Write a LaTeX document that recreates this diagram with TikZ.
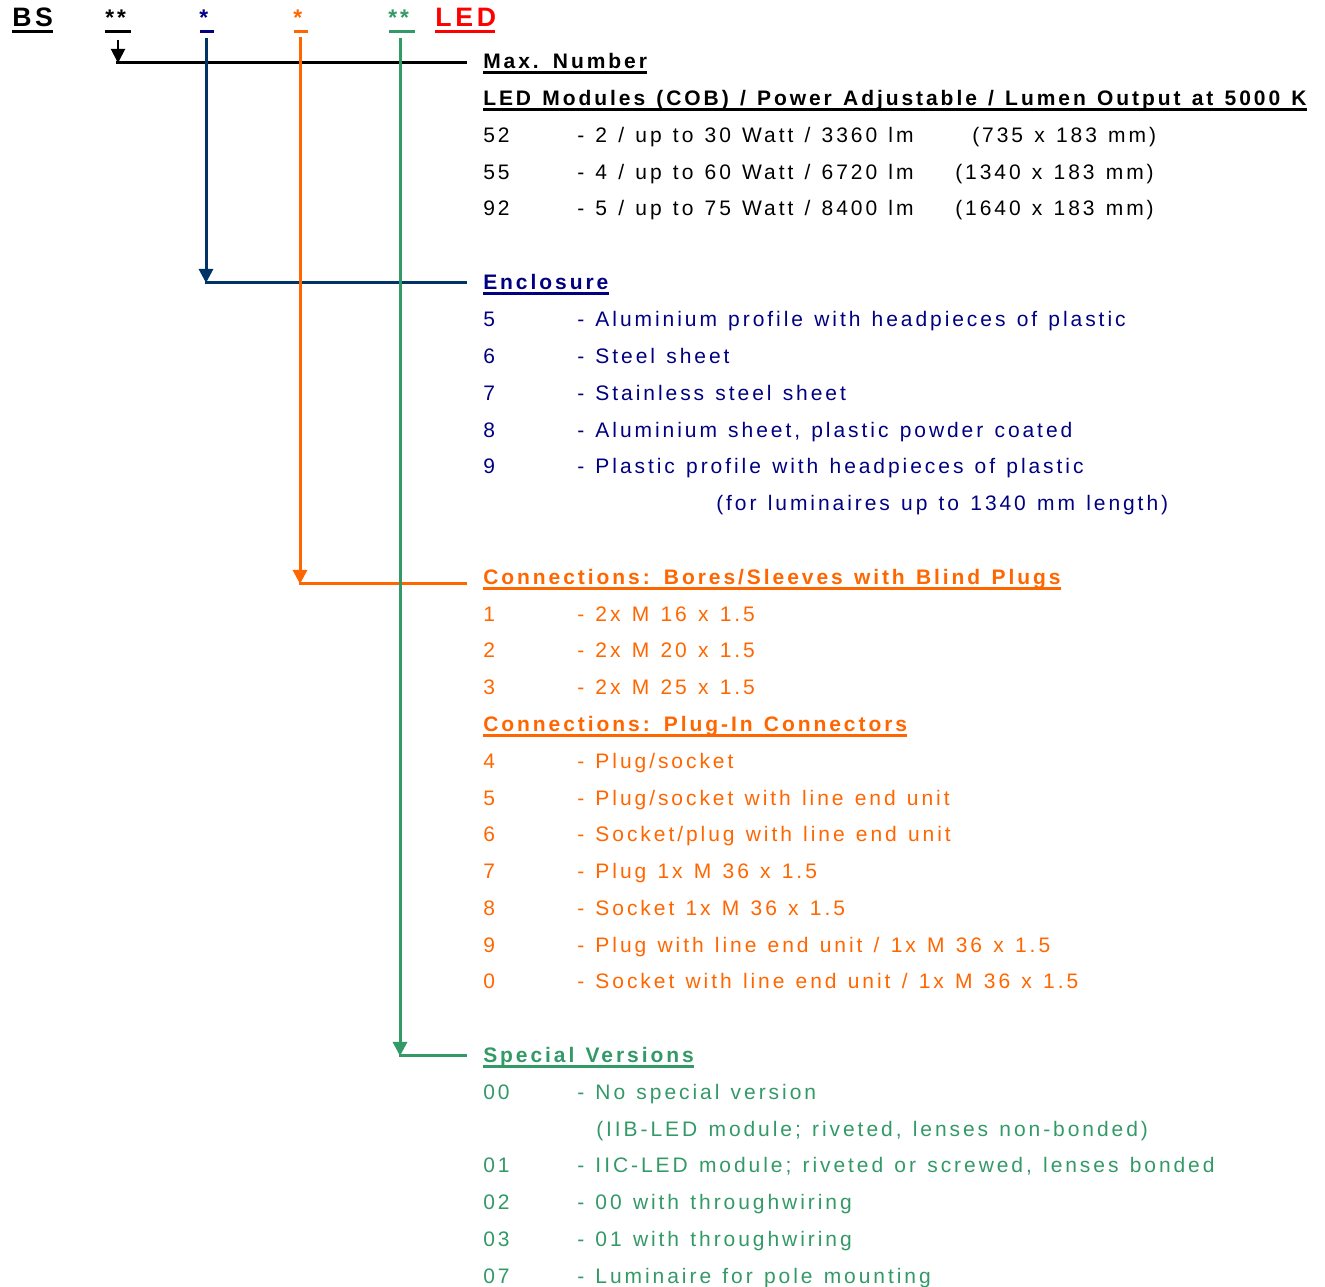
\documentclass[tikz,border=0pt]{standalone}
\usepackage{fontspec}
\setmainfont{Liberation Sans}[LetterSpace=14, WordSpace=1.28]
\usepackage{xcolor}
\usetikzlibrary{arrows.meta,positioning,calc}
\definecolor{encnavy}{HTML}{000080}
\definecolor{encline}{HTML}{003366}
\definecolor{conorange}{HTML}{FF6600}
\definecolor{specgreen}{HTML}{339966}
\definecolor{ledred}{HTML}{FF0000}

\begin{document}
\begin{tikzpicture}[
		x=0.75pt, y=-0.75pt,
		item/.style={
			anchor=base west, inner sep=0pt, font=\fontsize{15.75}{18}\selectfont
		},
		heading/.style={
			item, font=\fontsize{15.75}{18}\selectfont\bfseries
		},
		starmark/.style={
			anchor=base west, inner sep=0pt, font=\fontsize{17}{20}\selectfont\bfseries
		},
		code/.style={
			anchor=base west, inner sep=0pt, font=\fontsize{20}{24}\selectfont\bfseries
		},
		uline/.style={line width=2pt},
		codeline/.style={line width=2.25pt},
		feed/.style={line width=2.25pt},
		>={Triangle[width=10.5pt,length=10.5pt]},
		]
		\useasboundingbox (0,0) rectangle (1325,1287);
		
		% Type code
		\node [code] (bs) at (12,27) {BS};
		\node [starmark] (maxstar) at (105,26) {**};
		\node [starmark, text=encnavy] (encstar) at (199,26) {*};
		\node [starmark, text=conorange] (constar) at (293,26) {*};
		\node [starmark, text=specgreen] (specstar) at (388,26) {**};
		\node [code, text=ledred] (led) at (435,27) {LED};
		\draw [codeline] (12,31.5) -- (53,31.5);
		\draw [codeline] (105,31.5) -- (131,31.5);
		\draw [codeline, encnavy] (200,31.5) -- (214,31.5);
		\draw [codeline, conorange] (294,31.5) -- (308,31.5);
		\draw [codeline, specgreen] (389,31.5) -- (415,31.5);
		\draw [codeline, ledred] (435,31.5) -- (495,31.5);
		
		% Max. Number
		\node [heading] (maxhead) at (483,68.5) {Max. Number};
		\node [heading] (ledhead) at (483,105.5) {LED Modules (COB) / Power Adjustable / Lumen Output at 5000 K};
		\node [item] (n52) at (483,142.5) {52};
		\node [item] (t52) at (577,142.5) {- 2 / up to 30 Watt / 3360 lm};
		\node [item] (d52) at (972,142.5) {(735 x 183 mm)};
		\node [item] (n55) at (483,179.5) {55};
		\node [item] (t55) at (577,179.5) {- 4 / up to 60 Watt / 6720 lm};
		\node [item] (d55) at (955,179.5) {(1340 x 183 mm)};
		\node [item] (n92) at (483,215.5) {92};
		\node [item] (t92) at (577,215.5) {- 5 / up to 75 Watt / 8400 lm};
		\node [item] (d92) at (955,215.5) {(1640 x 183 mm)};
		
		% Enclosure
		\begin{scope}[every node/.append style={text=encnavy}]
		\node [heading] (enchead) at (483,289.5) {Enclosure};
		\node [item] (e5n) at (483,326.5) {5};
		\node [item] (e5t) at (577,326.5) {- Aluminium profile with headpieces of plastic};
		\node [item] (e6n) at (483,363.5) {6};
		\node [item] (e6t) at (577,363.5) {- Steel sheet};
		\node [item] (e7n) at (483,400.5) {7};
		\node [item] (e7t) at (577,400.5) {- Stainless steel sheet};
		\node [item] (e8n) at (483,437.5) {8};
		\node [item] (e8t) at (577,437.5) {- Aluminium sheet, plastic powder coated};
		\node [item] (e9n) at (483,473.5) {9};
		\node [item] (e9t) at (577,473.5) {- Plastic profile with headpieces of plastic};
		\node [item] (e9x) at (716,510.5) {(for luminaires up to 1340 mm length)};
		\end{scope}
		
		% Connections
		\begin{scope}[every node/.append style={text=conorange}]
		\node [heading] (borehead) at (483,584.5) {Connections: Bores/Sleeves with Blind Plugs};
		\node [item] (c1n) at (483,621.5) {1};
		\node [item] (c1t) at (577,621.5) {- 2x M 16 x 1.5};
		\node [item] (c2n) at (483,657.5) {2};
		\node [item] (c2t) at (577,657.5) {- 2x M 20 x 1.5};
		\node [item] (c3n) at (483,694.5) {3};
		\node [item] (c3t) at (577,694.5) {- 2x M 25 x 1.5};
		\node [heading] (plughead) at (483,731.5) {Connections: Plug-In Connectors};
		\node [item] (c4n) at (483,768.5) {4};
		\node [item] (c4t) at (577,768.5) {- Plug/socket};
		\node [item] (c5n) at (483,805.5) {5};
		\node [item] (c5t) at (577,805.5) {- Plug/socket with line end unit};
		\node [item] (c6n) at (483,841.5) {6};
		\node [item] (c6t) at (577,841.5) {- Socket/plug with line end unit};
		\node [item] (c7n) at (483,878.5) {7};
		\node [item] (c7t) at (577,878.5) {- Plug 1x M 36 x 1.5};
		\node [item] (c8n) at (483,915.5) {8};
		\node [item] (c8t) at (577,915.5) {- Socket 1x M 36 x 1.5};
		\node [item] (c9n) at (483,952.5) {9};
		\node [item] (c9t) at (577,952.5) {- Plug with line end unit / 1x M 36 x 1.5};
		\node [item] (c0n) at (483,988.5) {0};
		\node [item] (c0t) at (577,988.5) {- Socket with line end unit / 1x M 36 x 1.5};
		\end{scope}
		
		% Special versions
		\begin{scope}[every node/.append style={text=specgreen}]
		\node [heading] (spechead) at (483,1062.5) {Special Versions};
		\node [item] (s00n) at (483,1099.5) {00};
		\node [item] (s00t) at (577,1099.5) {- No special version};
		\node [item] (s00x) at (596,1136.5) {(IIB-LED module; riveted, lenses non-bonded)};
		\node [item] (s01n) at (483,1172.5) {01};
		\node [item] (s01t) at (577,1172.5) {- IIC-LED module; riveted or screwed, lenses bonded};
		\node [item] (s02n) at (483,1209.5) {02};
		\node [item] (s02t) at (577,1209.5) {- 00 with throughwiring};
		\node [item] (s03n) at (483,1246.5) {03};
		\node [item] (s03t) at (577,1246.5) {- 01 with throughwiring};
		\node [item] (s07n) at (483,1283.5) {07};
		\node [item] (s07t) at (577,1283.5) {- Luminaire for pole mounting};
		\end{scope}
		
		% heading underlines
		\draw [uline] ([yshift=-3pt]maxhead.base west) -- ([yshift=-3pt]maxhead.base east);
		\draw [uline] ([yshift=-3pt]ledhead.base west) -- ([yshift=-3pt]ledhead.base east);
		\draw [uline, encnavy] ([yshift=-3pt]enchead.base west) -- ([yshift=-3pt]enchead.base east);
		\draw [uline, conorange] ([yshift=-3pt]borehead.base west) -- ([yshift=-3pt]borehead.base east);
		\draw [uline, conorange] ([yshift=-3pt]plughead.base west) -- ([yshift=-3pt]plughead.base east);
		\draw [uline, specgreen] ([yshift=-3pt]spechead.base west) -- ([yshift=-3pt]spechead.base east);
		
		% Feeds from the type code
		\coordinate (maxtap) at (118,40);
		\coordinate (enctap) at (206,38);
		\coordinate (contap) at (300,37);
		\coordinate (spectap) at (400,38);
		\coordinate (maxbend) at ($(maxtap |- maxhead.mid west)+(0,-2)$);
		\coordinate (encbend) at ($(enctap |- enchead.mid west)+(0,-3)$);
		\coordinate (conbend) at ($(contap |- borehead.mid west)+(0,3)$);
		\coordinate (specbend) at ($(spectap |- spechead.mid west)+(0,-3)$);
		
		\draw [line width=1.5pt, ->] (maxtap) -- (maxbend);
		\draw [feed] ([xshift=-1.5pt]maxbend) -- ($(maxhead.mid west)+(-16,-2)$);
		\draw [feed, encline, ->] (enctap) -- (encbend);
		\draw [feed, encline] ([xshift=-1pt]encbend) -- ($(enchead.mid west)+(-16,-3)$);
		\draw [feed, conorange, ->] (contap) -- (conbend);
		\draw [feed, conorange] ([xshift=-1pt]conbend) -- ($(borehead.mid west)+(-16,3)$);
		\draw [feed, specgreen, ->] (spectap) -- (specbend);
		\draw [feed, specgreen] ([xshift=-1pt]specbend) -- ($(spechead.mid west)+(-16,-3)$);
		
	\end{tikzpicture}
\end{document}
